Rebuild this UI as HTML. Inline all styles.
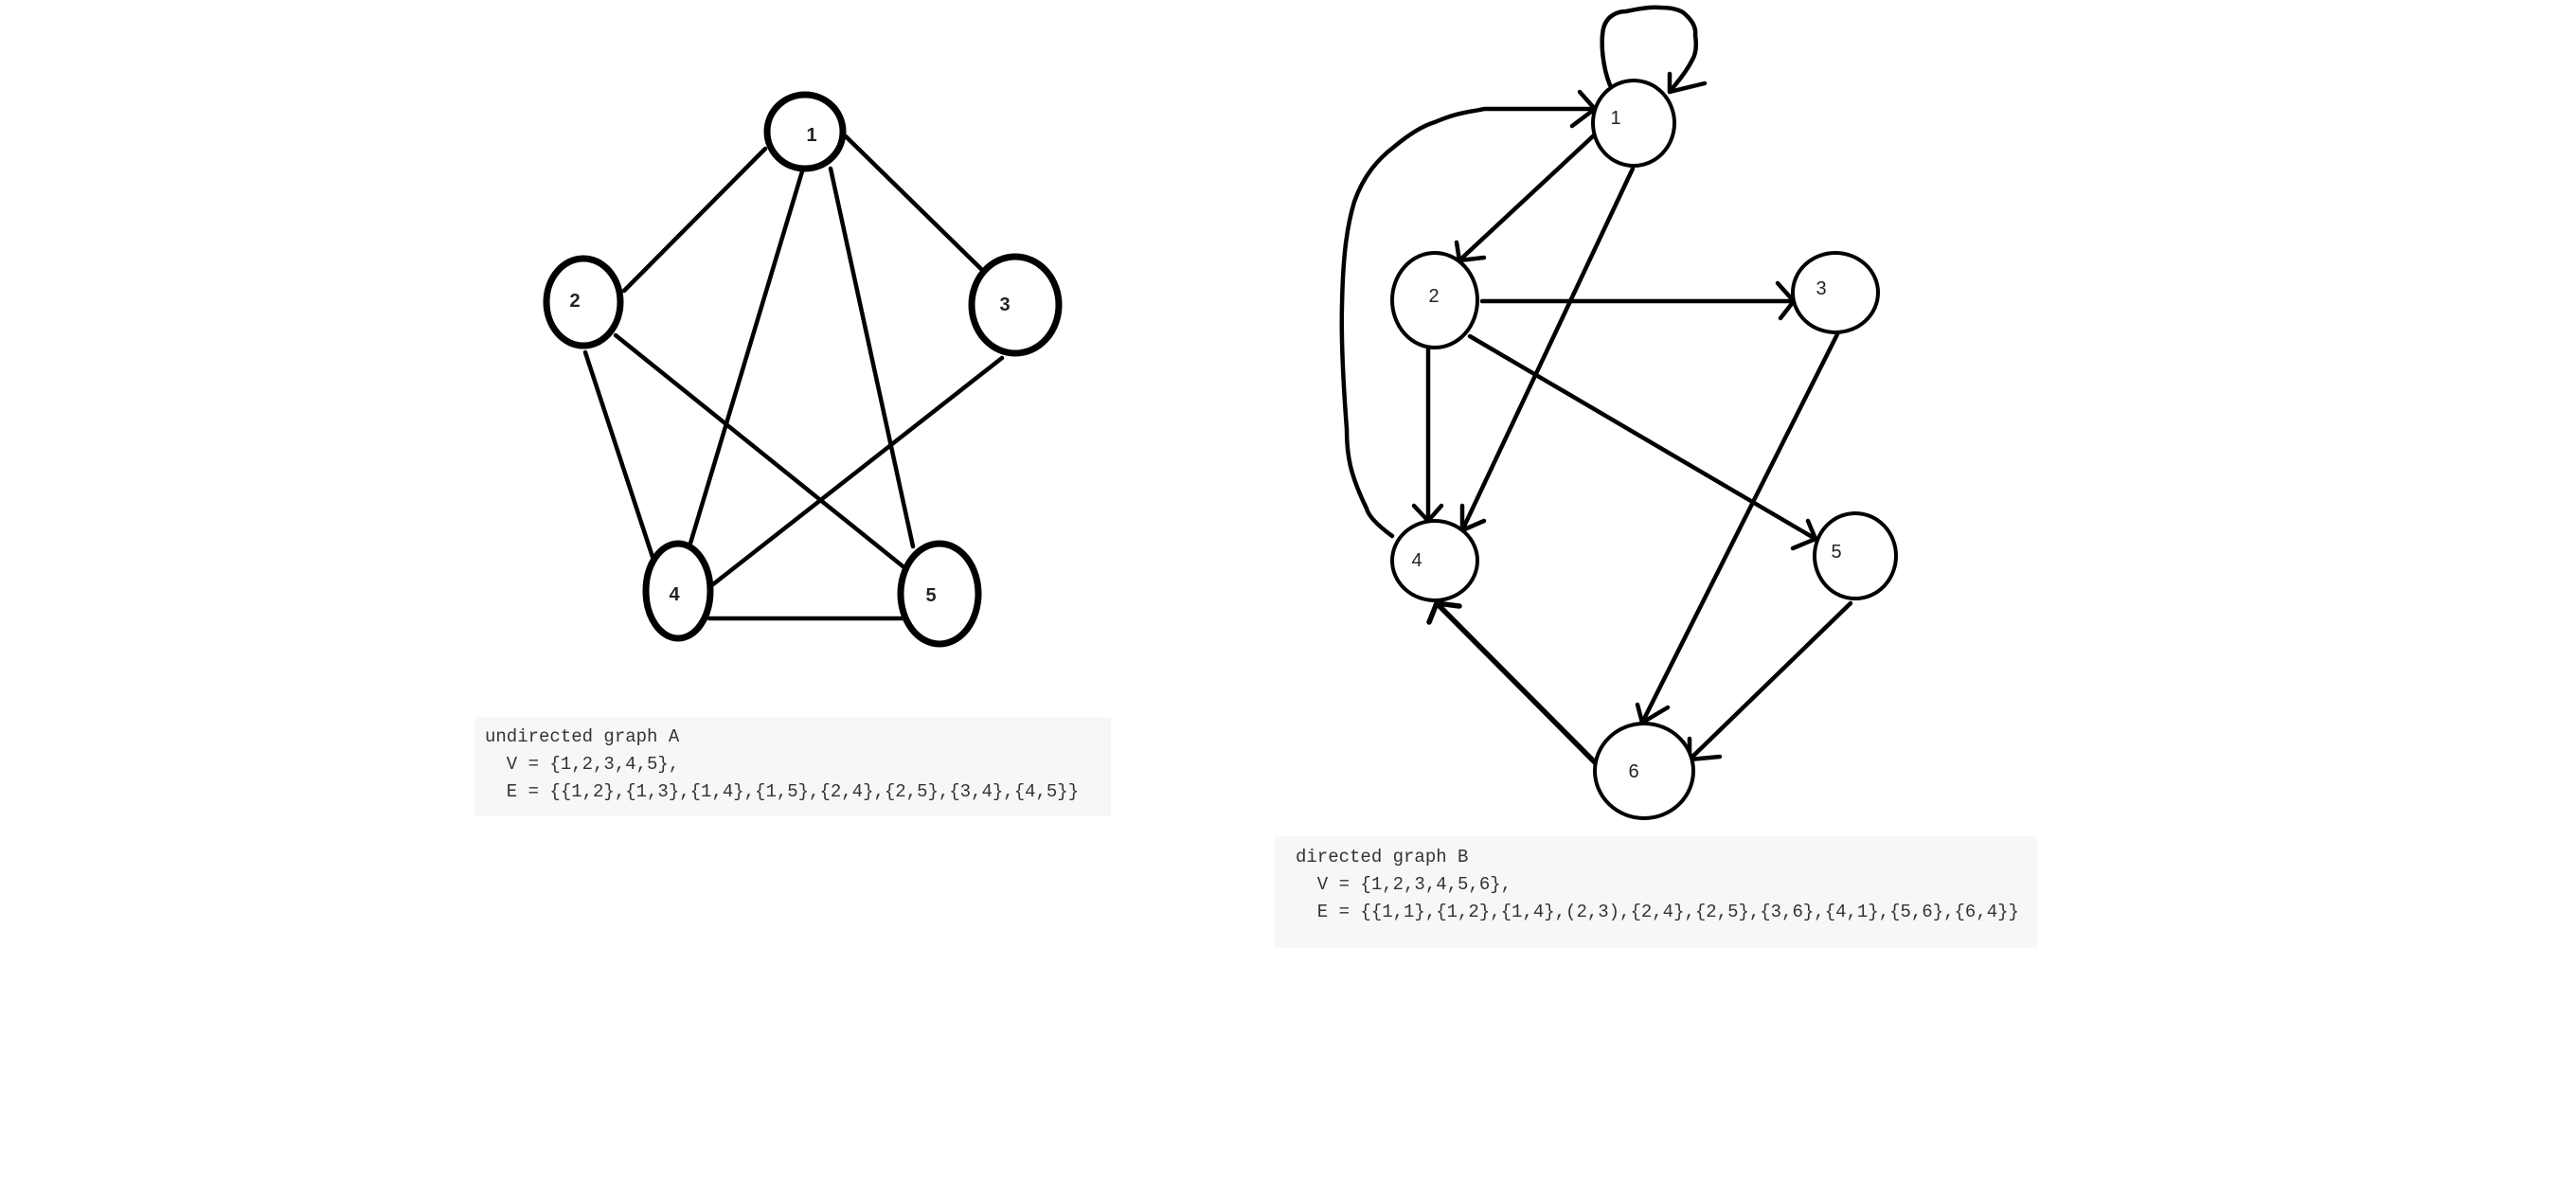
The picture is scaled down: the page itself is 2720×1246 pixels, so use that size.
<!DOCTYPE html>
<html><head><meta charset="utf-8"><style>
html,body{margin:0;padding:0;background:#fff;}
body{width:2720px;height:1246px;position:relative;overflow:hidden;}
.box{position:absolute;background:#f6f7f8;font-family:"Liberation Mono",monospace;font-size:19px;color:#333;white-space:pre;line-height:29px;}
</style></head><body>
<svg width="2720" height="1246" style="position:absolute;left:0;top:0" xmlns="http://www.w3.org/2000/svg">
<g stroke="#000" fill="none" stroke-width="4.5" stroke-linecap="round">
<line x1="808" y1="157" x2="659" y2="307"/>
<line x1="893" y1="144" x2="1038" y2="286"/>
<line x1="847" y1="181" x2="728" y2="577"/>
<line x1="877" y1="178" x2="964" y2="577"/>
<line x1="618" y1="372" x2="689" y2="588"/>
<line x1="650" y1="354" x2="957" y2="601"/>
<line x1="1058" y1="378" x2="753" y2="617"/>
<line x1="749" y1="653" x2="953" y2="653"/>
</g>
<g stroke="#000" fill="#fff" stroke-width="7">
<ellipse cx="850" cy="139" rx="40" ry="39"/>
<ellipse cx="616" cy="319" rx="39" ry="46"/>
<ellipse cx="1072" cy="322" rx="46" ry="51"/>
<ellipse cx="716" cy="624" rx="34" ry="50"/>
<ellipse cx="992" cy="627" rx="41" ry="53"/>
</g>
<g font-family="Liberation Sans, sans-serif" font-weight="bold" font-size="20" fill="#222" text-anchor="middle">
<text x="857" y="149">1</text>
<text x="607" y="324">2</text>
<text x="1061" y="328">3</text>
<text x="712" y="634">4</text>
<text x="983" y="635">5</text>
</g>
<g stroke="#000" fill="none" stroke-width="4.5" stroke-linecap="round" stroke-linejoin="round">
<path d="M1700,90 C1692,70 1690,45 1693,30 C1697,15 1710,12 1717,12 C1735,8 1745,7 1753,8 C1765,8 1772,10 1777,13 C1788,22 1791,30 1790,37 C1792,50 1790,58 1787,63 C1780,77 1770,88 1763,97"/>
<path d="M1763,78 L1763,97 L1800,88"/>
<path d="M1470,566 C1455,555 1445,545 1443,537 C1425,500 1422,480 1422,453 C1418,400 1416,360 1417,323 C1418,270 1422,240 1430,213 C1440,185 1455,168 1472,155 C1490,140 1505,132 1515,129 C1540,118 1555,118 1567,115 L1684,115"/>
<path d="M1668,97 L1684,115 L1660,133"/>
<line x1="1684" y1="142" x2="1541" y2="275"/>
<path d="M1538,256 L1541,275 L1567,272"/>
<line x1="1724" y1="178" x2="1544" y2="560"/>
<path d="M1544,534 L1544,560 L1567,550"/>
<line x1="1565" y1="318" x2="1894" y2="318"/>
<path d="M1877,299 L1894,318 L1880,336"/>
<line x1="1508" y1="369" x2="1508" y2="550"/>
<path d="M1493,534 L1508,550 L1522,534"/>
<line x1="1552" y1="355" x2="1917" y2="569"/>
<path d="M1909,550 L1917,569 L1893,579"/>
<line x1="1940" y1="353" x2="1734" y2="763"/>
<path d="M1729,744 L1734,763 L1761,747"/>
<line x1="1954" y1="637" x2="1784" y2="802"/>
<path d="M1784,780 L1784,802 L1816,799"/>
<line x1="1684" y1="805" x2="1517" y2="637" stroke-width="5.5"/>
<path d="M1509,657 L1517,637 L1541,640" stroke-width="5.5"/>
</g>
<g stroke="#000" fill="#fff" stroke-width="4">
<ellipse cx="1725" cy="130" rx="43" ry="45"/>
<ellipse cx="1515" cy="317" rx="45" ry="50"/>
<ellipse cx="1938" cy="309" rx="45" ry="42"/>
<ellipse cx="1515" cy="592" rx="45" ry="42"/>
<ellipse cx="1959" cy="587" rx="43" ry="45"/>
<ellipse cx="1736" cy="814" rx="52" ry="50"/>
</g>
<g font-family="Liberation Sans, sans-serif" font-size="20" fill="#222" text-anchor="middle">
<text x="1706" y="131">1</text>
<text x="1514" y="319">2</text>
<text x="1923" y="311">3</text>
<text x="1496" y="598">4</text>
<text x="1939" y="589">5</text>
<text x="1725" y="821">6</text>
</g>
</svg>
<div class="box" style="left:501px;top:757px;width:672px;height:105px;"><div style="padding:7px 0 0 11px;">undirected graph A
  V = {1,2,3,4,5},
  E = {{1,2},{1,3},{1,4},{1,5},{2,4},{2,5},{3,4},{4,5}}</div></div>
<div class="box" style="left:1346px;top:883px;width:805px;height:118px;"><div style="padding:8px 0 0 22px;">directed graph B
  V = {1,2,3,4,5,6},
  E = {{1,1},{1,2},{1,4},(2,3),{2,4},{2,5},{3,6},{4,1},{5,6},{6,4}}</div></div>
</body></html>
